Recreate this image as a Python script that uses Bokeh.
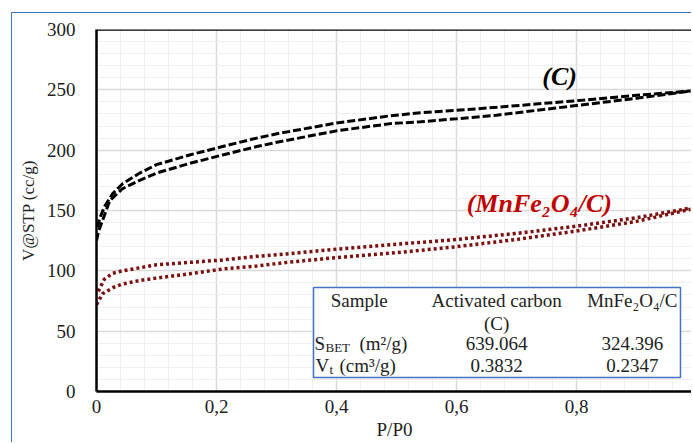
from bokeh.plotting import figure
from bokeh.models import FixedTicker, Span, Range1d
from bokeh.core.properties import value
from bokeh.embed import file_html
from bokeh.resources import INLINE

# ---- data ----
c_ads_x = [0.0, 0.003, 0.008, 0.022, 0.043, 0.072, 0.10, 0.155, 0.21, 0.267, 0.305, 0.40, 0.49, 0.54, 0.60, 0.667, 0.80, 0.90, 0.99]
c_ads_y = [125, 132, 139, 158, 168, 175, 181, 189, 196, 203, 207, 216, 222, 223.5, 226, 229, 237, 243, 249]
c_des_x = [0.002, 0.005, 0.013, 0.027, 0.043, 0.072, 0.10, 0.155, 0.21, 0.267, 0.305, 0.40, 0.49, 0.54, 0.60, 0.667, 0.80, 0.90, 0.99]
c_des_y = [136, 143, 153, 164, 172, 181, 188, 196, 203, 210, 214, 222.5, 228.5, 231, 233, 235.5, 241, 245.5, 249]

m_ads_x = [0.0, 0.01, 0.027, 0.043, 0.072, 0.10, 0.155, 0.21, 0.267, 0.317, 0.40, 0.50, 0.60, 0.70, 0.80, 0.90, 0.99]
m_ads_y = [72, 81, 86, 89, 92, 94, 97.5, 101.5, 104, 107, 111, 115, 120, 126, 133, 141, 151]
m_des_x = [0.003, 0.013, 0.027, 0.043, 0.072, 0.10, 0.155, 0.21, 0.267, 0.317, 0.40, 0.50, 0.60, 0.70, 0.80, 0.90, 0.99]
m_des_y = [83, 93, 98, 100, 102.5, 105, 107, 109, 112, 114, 118, 122, 126, 131, 137, 144, 152]

x_ticks = [0, 0.2, 0.4, 0.6, 0.8]
x_tick_labels = ["0", "0,2", "0,4", "0,6", "0,8"]
x_minor = [0.04, 0.08, 0.12, 0.16, 0.24, 0.28, 0.32, 0.36, 0.44, 0.48, 0.52, 0.56,
           0.64, 0.68, 0.72, 0.76, 0.84, 0.88, 0.92, 0.96]
y_ticks = [0, 50, 100, 150, 200, 250, 300]
y_minor = [10, 20, 30, 40, 60, 70, 80, 90, 110, 120, 130, 140, 160, 170, 180, 190,
           210, 220, 230, 240, 260, 270, 280, 290]

table_header = ["Sample", "Activated carbon", "MnFe\u2082O\u2084/C"]
table_header2 = ["", "(C)", ""]
sbet_values = ["639.064", "324.396"]
vt_values = ["0.3832", "0.2347"]

FONT = "Liberation Serif"
SERIF = value(FONT)
TXT = "#222222"

p = figure(width=680, height=430, output_backend="svg", toolbar_location=None,
           x_range=Range1d(0, 0.99333), y_range=Range1d(0, 300),
           min_border_left=84, min_border_top=16, min_border_bottom=52, min_border_right=0)
p.margin = (12, 0, 0, 11)
p.styles = {"border-left": "1.5px solid #4472c4", "border-top": "1.5px solid #4472c4"}
p.outline_line_color = None
p.background_fill_color = "white"
p.border_fill_color = "white"

# axes
for ax in (p.xaxis, p.yaxis):
    ax.axis_line_color = "black"
    ax.axis_line_width = 2.5
    ax.major_tick_line_color = None
    ax.minor_tick_line_color = None
    ax.major_tick_out = 0
    ax.major_tick_in = 0
    ax.major_label_text_font = FONT
    ax.major_label_text_font_size = "19px"
    ax.major_label_text_color = TXT
    ax.major_label_text_line_height = 1.0
    ax.axis_label_text_font = FONT
    ax.axis_label_text_font_style = "normal"
    ax.axis_label_text_color = TXT
    ax.axis_label_text_line_height = 1.0

p.xaxis.ticker = FixedTicker(ticks=x_ticks, minor_ticks=x_minor)
p.xaxis.major_label_overrides = dict(zip(x_ticks, x_tick_labels))
p.xaxis.major_label_standoff = 4
p.xaxis.axis_label = "P/P0"
p.xaxis.axis_label_text_font_size = "19px"
p.xaxis.axis_label_standoff = 3

p.yaxis.ticker = FixedTicker(ticks=y_ticks, minor_ticks=y_minor)
p.yaxis.major_label_standoff = 17
p.yaxis.axis_label = "V@STP (cc/g)"
p.yaxis.axis_label_text_font_size = "17px"
p.yaxis.axis_label_standoff = 6

for g in (p.xgrid, p.ygrid):
    g.grid_line_color = "#d9d9d9"
    g.grid_line_width = 1.5
    g.minor_grid_line_color = "#efefef"
    g.minor_grid_line_width = 1

p.add_layout(Span(location=300, dimension="width", line_color="black", line_width=2.5))

# curves
p.line(c_ads_x, c_ads_y, line_color="black", line_width=3, line_dash="8 3")
p.line(c_des_x, c_des_y, line_color="black", line_width=3, line_dash="8 3")
p.line(m_ads_x, m_ads_y, line_color="#7a1010", line_width=3.5, line_dash="3 3")
p.line(m_des_x, m_des_y, line_color="#7a1010", line_width=3.5, line_dash="3 3")

# curve labels
p.text(x=[0.772], y=[261], text=["(C)"], text_font=SERIF, text_font_style="bold italic",
       text_font_size=value("26px"), text_align="center", text_baseline="middle",
       text_color="black")
p.text(x=[0.738], y=[156], text=["(MnFe\u2082O\u2084/C)"], text_font=SERIF,
       text_font_style="bold italic", text_font_size=value("26px"),
       text_align="center", text_baseline="middle", text_color="#c00000")

# table inset
p.quad(left=[0.3617], right=[0.9733], top=[86.2], bottom=[11.6],
       fill_color="white", line_color="#4472c4", line_width=1.5)
col_x = [0.438, 0.667, 0.893]
common = dict(text_font=SERIF, text_font_size=value("19px"), text_baseline="middle",
              text_color=TXT)
p.text(x=col_x, y=[75.4] * 3, text=table_header, text_align="center", **common)
p.text(x=col_x, y=[56.4] * 3, text=table_header2, text_align="center", **common)
p.text(x=col_x[1:], y=[39.8] * 2, text=sbet_values, text_align="center", **common)
p.text(x=col_x[1:], y=[21.5] * 2, text=vt_values, text_align="center", **common)

small = dict(text_font=SERIF, text_font_size=value("13px"), text_baseline="middle",
             text_color=TXT, text_align="left")
lx = 0.3633
p.text(x=[lx], y=[39.8], text=["S"], text_align="left", **common)
p.text(x=[lx], y=[39.8], text=["BET"], x_offset=11, y_offset=4, **small)
p.text(x=[lx], y=[39.8], text=["(m\u00b2/g)"], text_align="left", x_offset=45, **common)
p.text(x=[lx], y=[21.5], text=["V"], text_align="left", x_offset=1, **common)
p.text(x=[lx], y=[21.5], text=["t"], x_offset=15, y_offset=4, **small)
p.text(x=[lx], y=[21.5], text=["(cm\u00b3/g)"], text_align="left", x_offset=25, **common)

open("out.html", "w").write(file_html(p, INLINE))
